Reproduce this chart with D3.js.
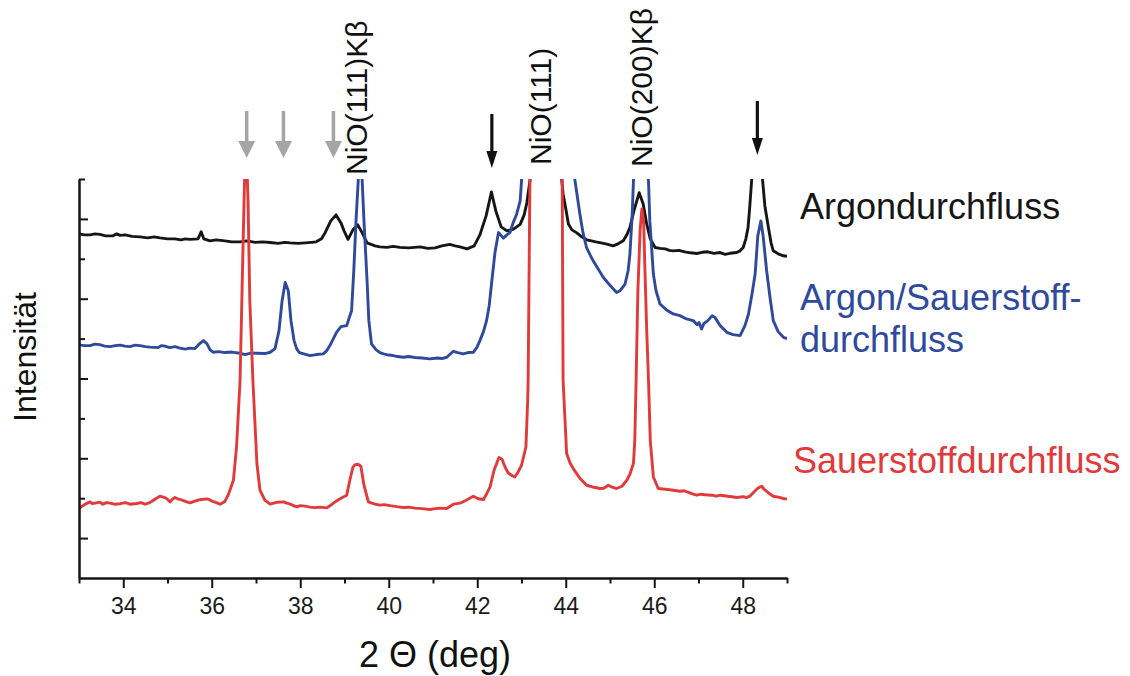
<!DOCTYPE html>
<html>
<head>
<meta charset="utf-8">
<script src="https://cdn.jsdelivr.net/npm/d3@7"></script>
<style>
  html, body { margin: 0; padding: 0; background: #fff; }
  svg { display: block; font-family: "Liberation Sans", Arial, Helvetica, sans-serif; }
</style>
</head>
<body>
<svg id="chart" width="1130" height="676"></svg>
<script>
// X-ray diffraction scans of NiO films, stacked with vertical offsets.
// Each point: [2θ in degrees, intensity in arbitrary units].
const seriesNames = ["Argondurchfluss", "Argon/Sauerstoff-\ndurchfluss", "Sauerstoffdurchfluss"];

const argonFlow = [
  [33.00,345],[33.12,344],[33.25,344],[33.36,345],[33.47,344.5],[33.60,343],[33.77,343],[33.85,345],[33.93,343.5],[34.04,344],
  [34.20,342.5],[34.38,342],[34.55,341],[34.70,342],[34.83,341],[35.00,340],[35.17,340],[35.30,339],[35.40,340],[35.51,339.5],
  [35.69,340],[35.76,347],[35.82,340],[35.96,338],[36.10,339],[36.30,338],[36.45,337],[36.64,337],[36.80,338],[36.98,336.5],
  [37.15,337],[37.32,336.3],[37.50,335.5],[37.65,336.5],[37.77,336],[37.95,335.5],[38.11,336],[38.25,336.5],[38.36,337],[38.48,340],
  [38.56,346],[38.69,358],[38.81,364],[38.92,356],[38.99,348],[39.08,339.5],[39.19,349],[39.30,354],[39.40,346],[39.51,336],
  [39.69,333],[39.80,332],[39.96,331.5],[40.10,332.5],[40.25,331.5],[40.45,331],[40.71,332],[40.88,330.5],[41.05,331],[41.20,333],
  [41.38,334.5],[41.50,333],[41.61,332],[41.77,330],[41.93,333],[42.06,344],[42.20,363],[42.32,387],[42.42,368],[42.54,352],
  [42.67,348],[42.81,349.5],[42.97,354.5],[43.06,364],[43.12,376],[43.19,398],[43.26,438],[43.31,478],[43.55,538],[43.80,478],
  [43.89,408],[43.94,385],[44.01,368],[44.06,355],[44.14,349],[44.25,346],[44.36,342],[44.47,339],[44.58,338],[44.68,337],
  [44.80,336],[44.93,334.7],[45.07,333],[45.18,335],[45.30,338],[45.38,344],[45.45,351.3],[45.54,368],[45.66,386.3],[45.75,375],
  [45.83,354.7],[45.91,340],[46.02,331.3],[46.13,330.5],[46.25,330],[46.34,328.5],[46.43,328],[46.56,328.5],[46.69,327],[46.82,326],
  [46.96,325.3],[47.08,326.5],[47.21,327],[47.35,325.5],[47.49,326.3],[47.60,324.5],[47.71,325.5],[47.86,326.3],[47.94,328],[48.01,331.3],
  [48.07,340],[48.12,351.3],[48.16,373],[48.20,398],[48.25,438],[48.32,468],[48.39,438],[48.45,398],[48.50,373],[48.58,351.3],
  [48.64,336],[48.69,328],[48.80,325],[48.92,323],[49.00,322.5]
];

const argonOxygenFlow = [
  [33.00,233.7],[33.12,233],[33.25,233],[33.36,234.5],[33.47,234],[33.58,232.5],[33.70,232],[33.82,233],[33.93,233.5],[34.04,232.5],
  [34.15,232],[34.27,233.5],[34.38,233],[34.50,232],[34.60,231.5],[34.79,231],[34.87,233],[34.94,232.5],[35.05,231],[35.17,232],
  [35.28,230.5],[35.40,229.5],[35.51,230.5],[35.62,230],[35.73,235],[35.81,238],[35.89,235],[35.96,229],[36.03,226.3],[36.15,227],
  [36.30,226],[36.45,226.5],[36.64,225.3],[36.75,224],[36.88,225.5],[37.02,225.3],[37.20,225],[37.32,226.3],[37.43,230],[37.52,248],
  [37.59,278],[37.66,296.3],[37.73,288],[37.79,258],[37.86,238],[37.92,229.7],[37.98,226],[38.06,225],[38.14,224],[38.22,223],
  [38.36,224],[38.52,224.7],[38.60,228],[38.67,233],[38.82,246.3],[38.92,252],[39.05,253],[39.10,260],[39.16,268],[39.21,308],
  [39.26,358],[39.31,398],[39.35,440],[39.40,398],[39.44,358],[39.51,298],[39.55,258],[39.61,234.7],[39.71,229],[39.80,226],
  [39.88,224.7],[40.00,223.5],[40.10,223],[40.20,222],[40.33,221.3],[40.45,222],[40.59,221],[40.75,220.5],[40.93,219.7],[41.10,220.5],
  [41.20,220],[41.31,221.3],[41.46,227.3],[41.56,226],[41.68,224.7],[41.79,226],[41.91,226.3],[41.99,231],[42.06,238],[42.14,247],
  [42.21,258],[42.27,273],[42.33,298],[42.40,326],[42.48,346.3],[42.59,340.7],[42.67,344],[42.74,346.3],[42.81,356],[42.89,364.7],
  [42.97,378],[43.00,398],[43.06,438],[43.19,488],[43.53,548],[43.87,488],[44.10,428],[44.21,398],[44.32,364.7],[44.39,346],
  [44.47,331.3],[44.55,324],[44.62,318],[44.73,310],[44.85,301.3],[44.95,296],[45.05,291],[45.15,286.3],[45.23,288],[45.34,294.7],
  [45.41,308],[45.45,324.7],[45.50,363],[45.53,398],[45.59,448],[45.68,478],[45.77,448],[45.84,408],[45.87,398],[45.90,358],
  [45.98,304.7],[46.04,288],[46.13,274.7],[46.27,269],[46.43,264.7],[46.58,263],[46.73,259.7],[46.88,258],[46.97,254],[47.01,256],
  [47.07,249.7],[47.12,255],[47.21,258],[47.31,263],[47.37,261.3],[47.49,253],[47.64,246.3],[47.78,244],[47.94,243],[48.05,253],
  [48.13,264.7],[48.21,285],[48.28,304.7],[48.34,343],[48.41,358],[48.46,343],[48.54,308],[48.62,280],[48.69,258],[48.80,247],
  [48.92,241.3],[49.00,240]
];

const oxygenFlow = [
  [33.00,69.7],[33.07,72],[33.14,74],[33.25,76.3],[33.30,74.5],[33.36,75],[33.47,76],[33.54,74],[33.62,75.5],[33.70,75],
  [33.80,74],[33.93,74.5],[34.05,75.5],[34.15,74],[34.30,74.7],[34.40,75.5],[34.49,74],[34.57,75],[34.65,77],[34.75,80],
  [34.83,82],[34.90,81],[34.97,80],[35.06,76.3],[35.11,79],[35.17,80.7],[35.25,79],[35.33,78],[35.42,76.5],[35.51,75.3],
  [35.62,77],[35.73,78.5],[35.89,79.3],[35.95,78.5],[36.01,77],[36.10,75.5],[36.19,74],[36.25,75.5],[36.30,77],[36.37,83],
  [36.49,98],[36.56,131.3],[36.64,198],[36.68,278],[36.73,378],[36.77,448],[36.82,378],[36.86,278],[36.93,198],[37.02,115],
  [37.09,88],[37.20,78],[37.32,74],[37.40,75],[37.48,76],[37.62,76.3],[37.70,75],[37.77,74],[37.85,72.5],[37.92,71.3],
  [38.00,72.5],[38.11,72],[38.22,71],[38.33,70.5],[38.45,71],[38.60,70.3],[38.72,74],[38.82,77.3],[38.92,80],[39.05,83],
  [39.12,98],[39.19,111],[39.24,113.7],[39.31,114],[39.37,112],[39.44,93],[39.54,76.3],[39.62,75],[39.69,74],[39.80,73],
  [39.90,73.5],[40.03,72.5],[40.18,71.5],[40.33,70.7],[40.45,71],[40.59,70],[40.75,69.5],[40.93,68.7],[41.05,69.5],[41.16,70],
  [41.31,69.7],[41.46,74],[41.53,74.5],[41.61,75],[41.75,78],[41.91,82],[42.02,79.5],[42.14,78.7],[42.22,85],[42.29,91.3],
  [42.38,108],[42.49,120.7],[42.56,119],[42.63,111],[42.70,105.3],[42.79,102.5],[42.85,101.3],[42.92,106],[43.00,113],[43.10,131.3],
  [43.14,178],[43.15,198],[43.19,398],[43.21,408],[43.42,518],[43.55,548],[43.69,518],[43.87,428],[43.92,399],[43.94,198],
  [44.02,124.7],[44.10,115],[44.17,109.7],[44.32,100],[44.47,93],[44.55,92],[44.62,91],[44.70,90.5],[44.77,89.7],[44.86,90],
  [44.96,93],[45.05,91],[45.15,89.7],[45.27,92],[45.38,98],[45.45,104],[45.53,115],[45.56,138],[45.59,198],[45.63,288],
  [45.68,348],[45.72,370],[45.76,358],[45.79,308],[45.83,248],[45.87,198],[45.91,138],[45.98,101.3],[46.09,89.7],[46.25,89],
  [46.35,88.5],[46.43,88],[46.58,87],[46.68,87.5],[46.76,86],[46.88,84],[46.96,83],[47.05,84],[47.15,83.5],[47.31,83],
  [47.40,82],[47.49,83],[47.58,82.5],[47.66,82],[47.76,81.5],[47.86,80.7],[48.01,81.5],[48.08,80.5],[48.16,82],[48.27,87],
  [48.34,90],[48.43,92],[48.48,89],[48.59,85],[48.69,82],[48.80,81],[48.92,79.7],[49.00,79]
];

const seriesColors = ["#161616", "#2f4a9c", "#e23a3a"];

// Tick marks on both axes
const xMajorTicks = [34, 36, 38, 40, 42, 44, 46, 48];
const xMinorTicks = [33, 35, 37, 39, 41, 43, 45, 47, 49];
const yMajorTicks = [40, 120, 200, 280, 360];
const yMinorTicks = [80, 160, 240, 320, 400];

// Reflection labels (2θ position of the text baseline)
const peakLabels = ["NiO(111)Kβ", "NiO(111)", "NiO(200)Kβ"];
const peakLabelPos = [39.51, 43.67, 45.95];

// Marker arrows above unassigned reflections
const arrowPos = [36.79, 37.62, 38.75, 42.33, 48.33];
const arrowKind = ["grey", "grey", "grey", "black", "black"];

(function draw() {
  const svg = d3.select("#chart");
  const pL = 79, pR = 787, pT = 179, pB = 578;

  const x = d3.scaleLinear().domain([33, 49]).range([pL, pR]);
  const y = d3.scaleLinear().domain([0, 400]).range([pB, pT]);

  svg.append("defs").append("clipPath").attr("id", "plotClip")
    .append("rect").attr("x", pL).attr("y", pT).attr("width", pR - pL).attr("height", pB - pT);

  const line = d3.line().x(d => x(d[0])).y(d => y(d[1]));

  const plot = svg.append("g").attr("clip-path", "url(#plotClip)");
  [argonFlow, argonOxygenFlow, oxygenFlow].forEach((data, i) => {
    plot.append("path")
      .datum(data)
      .attr("d", line)
      .attr("fill", "none")
      .attr("stroke", seriesColors[i])
      .attr("stroke-width", 2.9)
      .attr("stroke-linejoin", "round");
  });

  // Axes
  const axisColor = "#151515";
  const xMajor = svg.append("g").attr("transform", `translate(0,${pB})`)
    .call(d3.axisBottom(x).tickValues(xMajorTicks).tickSize(10).tickSizeOuter(0).tickPadding(10).tickFormat(d3.format("d")));
  const xMinor = svg.append("g").attr("transform", `translate(0,${pB})`)
    .call(d3.axisBottom(x).tickValues(xMinorTicks).tickSize(5.5).tickSizeOuter(0).tickFormat(""));
  const yMajor = svg.append("g").attr("transform", `translate(${pL},0)`)
    .call(d3.axisRight(y).tickValues(yMajorTicks).tickSize(9).tickSizeOuter(0).tickFormat(""));
  const yMinor = svg.append("g").attr("transform", `translate(${pL},0)`)
    .call(d3.axisRight(y).tickValues(yMinorTicks).tickSize(6).tickSizeOuter(0).tickFormat(""));

  [xMajor, xMinor, yMajor, yMinor].forEach(g => {
    g.selectAll("path.domain").attr("stroke", axisColor).attr("stroke-width", 2);
    g.selectAll(".tick line").attr("stroke", axisColor).attr("stroke-width", 2);
  });
  xMajor.selectAll(".tick text")
    .attr("fill", "#1a1a1a")
    .style("font-size", "23px")
    .style("font-family", "'Liberation Sans', Arial, sans-serif");

  // Axis titles
  svg.append("text")
    .attr("x", (pL + pR) / 2 + 2).attr("y", 667)
    .attr("text-anchor", "middle")
    .style("font-size", "36px").attr("fill", "#111")
    .text("2 Θ (deg)");

  svg.append("text")
    .attr("transform", "translate(36,357) rotate(-90)")
    .attr("text-anchor", "middle")
    .style("font-size", "32px").attr("fill", "#111")
    .text("Intensität");

  // Reflection labels, rotated
  const labelBottoms = [175, 165, 167];
  peakLabels.forEach((t, i) => {
    svg.append("text")
      .attr("transform", `translate(${x(peakLabelPos[i])},${labelBottoms[i]}) rotate(-90)`)
      .style("font-size", "30px").attr("fill", "#111")
      .text(t);
  });

  // Arrows
  const arrowStyle = {
    grey:  { color: "#a5a5a5", y0: 111, tip: 158, head: 17, half: 8.5, w: 3.5 },
    black: { color: "#111111", y0: 114, tip: 168, head: 17, half: 5.5, w: 3.2 }
  };
  arrowPos.forEach((p, i) => {
    const s = arrowStyle[arrowKind[i]];
    const cx = x(p);
    let y0 = s.y0, tip = s.tip;
    if (i === 4) { y0 = 101; tip = 155; }
    svg.append("line")
      .attr("x1", cx).attr("x2", cx).attr("y1", y0).attr("y2", tip - s.head + 2)
      .attr("stroke", s.color).attr("stroke-width", s.w);
    svg.append("path")
      .attr("d", `M${cx - s.half},${tip - s.head} L${cx + s.half},${tip - s.head} L${cx},${tip} Z`)
      .attr("fill", s.color);
  });

  // Series names at the right
  const legendLines = [
    { text: "Argondurchfluss", x: 800, y: 219, c: 0 },
    { text: "Argon/Sauerstoff-", x: 800, y: 310, c: 1 },
    { text: "durchfluss", x: 800, y: 352, c: 1 },
    { text: "Sauerstoffdurchfluss", x: 793, y: 473, c: 2 }
  ];
  legendLines.forEach(l => {
    svg.append("text")
      .attr("x", l.x).attr("y", l.y)
      .style("font-size", "36px").attr("fill", seriesColors[l.c])
      .text(l.text);
  });
})();
</script>
</body>
</html>
